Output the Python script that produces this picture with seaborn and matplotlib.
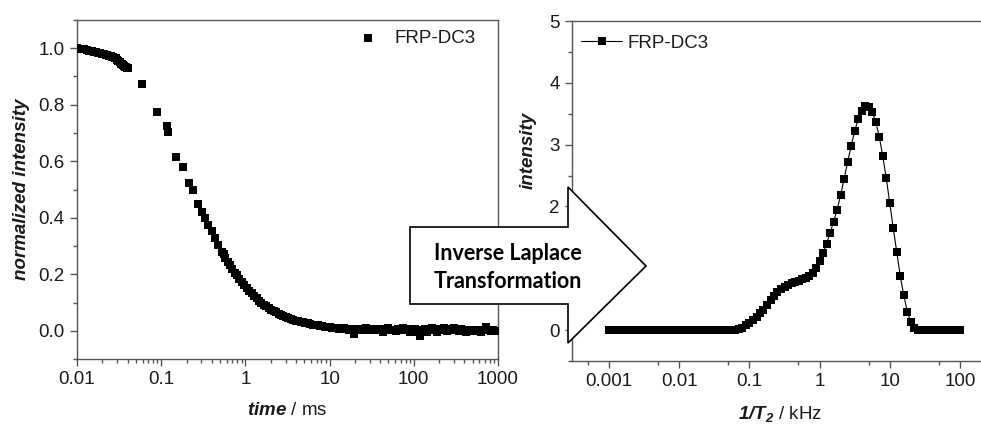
import matplotlib
matplotlib.use("Agg")
import matplotlib.pyplot as plt
import seaborn as sns
from matplotlib.patches import Polygon
from matplotlib.ticker import LogLocator, MultipleLocator, FixedLocator, NullFormatter

# ---- left panel: decay curve ----
time_ms = [
    0.010, 0.011, 0.012, 0.013, 0.014, 0.015, 0.016, 0.017, 0.018, 0.019,
    0.020, 0.021, 0.022, 0.023, 0.024, 0.025, 0.026, 0.027, 0.028, 0.029,
    0.030, 0.031, 0.032, 0.033, 0.034, 0.035, 0.036, 0.037, 0.038, 0.039, 0.040,
    0.0586, 0.0891, 0.116, 0.120, 0.150, 0.180, 0.216, 0.241, 0.271, 0.303,
    0.331, 0.363, 0.398, 0.436, 0.477, 0.524,
    0.55, 0.58, 0.62, 0.66, 0.70, 0.75, 0.80, 0.85, 0.91, 0.97,
    1.04, 1.11, 1.19, 1.27, 1.36, 1.45, 1.55, 1.66, 1.78, 1.90,
    2.03, 2.17, 2.32, 2.48, 2.65, 2.83, 3.03, 3.24, 3.46, 3.70,
    3.96, 4.23, 4.52, 4.83, 5.16, 5.52, 5.90, 6.31, 6.74, 7.21,
    7.70, 8.23, 8.80, 9.41, 10.0,
    10.7, 11.5, 12.3, 13.1, 14.0, 15.0, 16.0, 17.1, 18.3, 19.6,
    20.9, 22.4, 23.9, 25.6, 27.3, 29.2, 31.2, 33.4, 35.7, 38.1,
    40.8, 43.6, 46.6, 49.8, 53.2, 56.9, 60.8, 65.0, 69.5, 74.3,
    79.4, 84.9, 90.7, 97.0, 103.7, 110.8, 118.5, 126.6, 135.4, 144.7,
    154.7, 165.3, 176.7, 188.9, 201.9, 215.9, 230.7, 246.7, 263.7, 281.8,
    301.3, 322.1, 344.3, 368.0, 393.4, 420.5, 449.5, 480.5, 513.6, 549.0,
    586.9, 627.4, 670.6, 716.9, 766.3, 819.1, 875.6, 936.0, 1000.0,
]
norm_intensity = [
    1.000, 0.998, 0.996, 0.994, 0.992, 0.990, 0.988, 0.986, 0.984, 0.982,
    0.980, 0.978, 0.977, 0.975, 0.974, 0.972, 0.970, 0.969, 0.967, 0.965,
    0.958, 0.954, 0.950, 0.946, 0.943, 0.940, 0.937, 0.935, 0.933, 0.931, 0.930,
    0.873, 0.773, 0.725, 0.704, 0.616, 0.581, 0.524, 0.498, 0.449, 0.422,
    0.398, 0.375, 0.354, 0.328, 0.304, 0.280,
    0.270, 0.259, 0.245, 0.233, 0.220, 0.206, 0.196, 0.184, 0.172, 0.162,
    0.151, 0.141, 0.132, 0.123, 0.115, 0.107, 0.100, 0.092, 0.086, 0.080,
    0.075, 0.070, 0.066, 0.061, 0.057, 0.053, 0.049, 0.045, 0.042, 0.039,
    0.036, 0.034, 0.032, 0.030, 0.028, 0.026, 0.024, 0.022, 0.021, 0.019,
    0.017, 0.016, 0.014, 0.013, 0.012,
    0.010, 0.008, 0.009, 0.007, 0.006, 0.008, 0.005, 0.004, 0.006, -0.012,
    0.003, 0.007, 0.005, 0.002, 0.008, 0.004, 0.006, 0.001, 0.007, 0.003,
    0.005, -0.004, 0.006, 0.009, 0.002, 0.004, -0.002, 0.006, 0.003, 0.008,
    0.001, 0.005, -0.003, 0.004, 0.007, -0.006, -0.018, 0.002, 0.006, -0.004,
    0.003, 0.008, 0.001, -0.003, 0.005, 0.002, 0.009, -0.002, 0.004, 0.006,
    0.010, 0.003, -0.001, 0.005, 0.002, -0.004, 0.003, 0.001, -0.002, 0.004,
    0.000, -0.003, 0.002, 0.012, 0.004, -0.002, 0.001, -0.001, 0.000,
]

# ---- right panel: T2 distribution (20 points per decade) ----
freq_khz = [
    0.001, 0.00112, 0.00126, 0.00141, 0.00158, 0.00178, 0.00200, 0.00224, 0.00251, 0.00282,
    0.00316, 0.00355, 0.00398, 0.00447, 0.00501, 0.00562, 0.00631, 0.00708, 0.00794, 0.00891,
    0.0100, 0.0112, 0.0126, 0.0141, 0.0158, 0.0178, 0.0200, 0.0224, 0.0251, 0.0282,
    0.0316, 0.0355, 0.0398, 0.0447, 0.0501, 0.0562, 0.0631, 0.0708, 0.0794, 0.0891,
    0.100, 0.112, 0.126, 0.141, 0.158, 0.178, 0.200, 0.224, 0.251, 0.282,
    0.316, 0.355, 0.398, 0.447, 0.501, 0.562, 0.631, 0.708, 0.794, 0.891,
    1.00, 1.12, 1.26, 1.41, 1.58, 1.78, 2.00, 2.24, 2.51, 2.82,
    3.16, 3.55, 3.98, 4.47, 5.01, 5.62, 6.31, 7.08, 7.94, 8.91,
    10.0, 11.2, 12.6, 14.1, 15.8, 17.8, 20.0, 22.4, 25.1, 28.2,
    31.6, 35.5, 39.8, 44.7, 50.1, 56.2, 63.1, 70.8, 79.4, 89.1,
    100.0,
]
t2_intensity = [
    0, 0, 0, 0, 0, 0, 0, 0, 0, 0,
    0, 0, 0, 0, 0, 0, 0, 0, 0, 0,
    0, 0, 0, 0, 0, 0, 0, 0, 0, 0,
    0, 0, 0, 0, 0, 0, 0, 0.01, 0.04, 0.08,
    0.12, 0.16, 0.21, 0.27, 0.33, 0.41, 0.48, 0.55, 0.61, 0.66,
    0.70, 0.73, 0.76, 0.78, 0.80, 0.82, 0.85, 0.88, 0.92, 1.00,
    1.12, 1.25, 1.40, 1.57, 1.75, 1.95, 2.19, 2.45, 2.72, 2.98,
    3.22, 3.41, 3.55, 3.62, 3.61, 3.53, 3.37, 3.13, 2.82, 2.46,
    2.06, 1.65, 1.26, 0.88, 0.57, 0.30, 0.13, 0.03, 0, 0,
    0, 0, 0, 0, 0, 0, 0, 0, 0, 0,
    0,
]

sns.set_style("ticks")
plt.rcParams['font.family'] = ['Liberation Sans', 'DejaVu Sans']
plt.rcParams['mathtext.fontset'] = 'custom'
plt.rcParams['mathtext.rm'] = 'Liberation Sans'
plt.rcParams['mathtext.it'] = 'Liberation Sans:italic'
plt.rcParams['mathtext.bf'] = 'Liberation Sans:bold'
plt.rcParams['mathtext.bfit'] = 'Liberation Sans:italic:bold'

W, H = 981, 426
FS = 13.5
TXT = '#1a1a1a'
SPINE = '#555555'

fig = plt.figure(figsize=(W / 100, H / 100), dpi=100)
ax1 = fig.add_axes([77 / W, 1 - 359 / H, (498 - 77) / W, (359 - 20) / H])
ax2 = fig.add_axes([572 / W, 1 - 361 / H, (981 - 572) / W, (361 - 21) / H])

sns.scatterplot(x=time_ms, y=norm_intensity, marker='s', s=32, color='black',
                edgecolor='black', linewidth=0, label='FRP-DC3', ax=ax1, zorder=3)
sns.lineplot(x=freq_khz, y=t2_intensity, marker='s', markersize=5.5, color='black',
             linewidth=0.8, markeredgewidth=0, label='FRP-DC3', ax=ax2, zorder=3)

for ax in (ax1, ax2):
    ax.set_xscale('log')
    for side in ('left', 'bottom', 'top', 'right'):
        ax.spines[side].set_color(SPINE)
        ax.spines[side].set_linewidth(1.0)
    ax.tick_params(which='major', direction='out', length=5, width=1, color=SPINE,
                   labelsize=FS, labelcolor=TXT, pad=4)
    ax.tick_params(which='minor', direction='out', length=3, width=1, color=SPINE)
    ax.tick_params(top=False, right=False, which='both')

ax2.spines['right'].set_visible(False)

# left axes
ax1.set_xlim(0.01, 1000)
ax1.set_ylim(-0.1, 1.1)
ax1.xaxis.set_major_locator(FixedLocator([0.01, 0.1, 1, 10, 100, 1000]))
ax1.xaxis.set_minor_locator(LogLocator(base=10, subs=(2, 3, 4, 5, 6, 7, 8, 9), numticks=20))
ax1.xaxis.set_minor_formatter(NullFormatter())
ax1.set_xticklabels(['0.01', '0.1', '1', '10', '100', '1000'])
ax1.yaxis.set_major_locator(FixedLocator([0.0, 0.2, 0.4, 0.6, 0.8, 1.0]))
ax1.yaxis.set_minor_locator(MultipleLocator(0.1))
ax1.set_yticklabels(['0.0', '0.2', '0.4', '0.6', '0.8', '1.0'])
ax1.set_xlabel(r'$\mathbfit{time}$ / ms', fontsize=FS, color=TXT)
ax1.set_ylabel('normalized intensity', fontsize=FS, color=TXT, fontweight='bold',
               fontstyle='italic')
ax1.yaxis.set_label_coords(-0.112, 0.5)
ax1.xaxis.set_label_coords(0.5, -0.128)
ax1.legend(loc='upper left', bbox_to_anchor=((349 - 77) / 421, 1 - 9.5 / 339),
           frameon=False, fontsize=FS, handletextpad=0.4, borderpad=0,
           borderaxespad=0, labelcolor=TXT)

# right axes
ax2.set_xlim(2.95e-4, 200)
ax2.set_ylim(-0.5, 5)
ax2.xaxis.set_major_locator(FixedLocator([0.001, 0.01, 0.1, 1, 10, 100]))
ax2.xaxis.set_minor_locator(LogLocator(base=10, subs=(5,), numticks=20))
ax2.xaxis.set_minor_formatter(NullFormatter())
ax2.set_xticklabels(['0.001', '0.01', '0.1', '1', '10', '100'])
ax2.yaxis.set_major_locator(FixedLocator([0, 1, 2, 3, 4, 5]))
ax2.yaxis.set_minor_locator(MultipleLocator(0.5))
ax2.set_yticklabels(['0', '1', '2', '3', '4', '5'])
ax2.set_xlabel(r'$\mathbfit{1/T_2}$ / kHz', fontsize=FS, color=TXT)
ax2.set_ylabel('intensity', fontsize=FS, color=TXT, fontweight='bold', fontstyle='italic')
ax2.yaxis.set_label_coords(-0.086, (361 - 150) / 340)
ax2.xaxis.set_label_coords((780 - 572) / 409, -0.125)
ax2.legend(loc='upper left', bbox_to_anchor=(0.022, 1 - 13.5 / 340), frameon=False,
           fontsize=FS, handlelength=2.2, handletextpad=0.3, borderpad=0,
           borderaxespad=0, labelcolor=TXT)

# block arrow between the panels
pts = [(410, 227), (568, 227), (568, 187), (646, 266), (568, 343), (568, 304), (410, 304)]
arrow = Polygon([(x / W, 1 - y / H) for x, y in pts], closed=True, transform=fig.transFigure,
                facecolor='white', edgecolor='black', linewidth=1.2, zorder=10)
fig.add_artist(arrow)
fig.text(508 / W, 1 - 253 / H, 'Inverse Laplace', ha='center', va='center', fontsize=15.5,
         fontweight='bold', family=['Lato', 'DejaVu Sans'], color='black', zorder=11)
fig.text(508 / W, 1 - 282 / H, 'Transformation', ha='center', va='center', fontsize=15.5,
         fontweight='bold', family=['Lato', 'DejaVu Sans'], color='black', zorder=11)

fig.savefig('out.png', dpi=100)
